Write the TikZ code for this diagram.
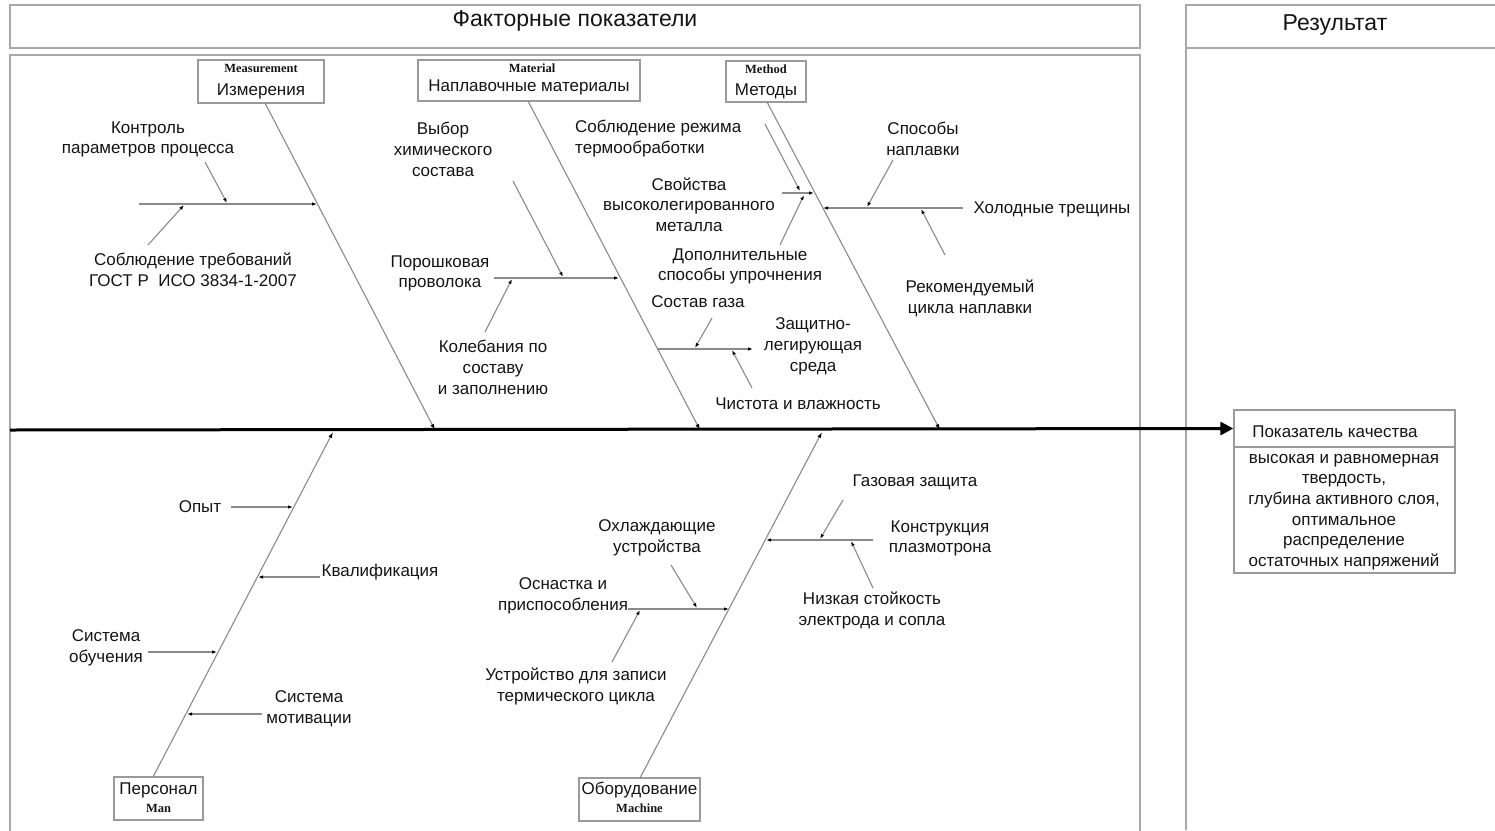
\documentclass[tikz,border=0pt]{standalone}
\usepackage{fontspec}
\setmainfont{Liberation Sans}
\newfontfamily\enserif{Liberation Serif}
\usetikzlibrary{arrows.meta}
\definecolor{txtc}{HTML}{141414}
\definecolor{boxc}{HTML}{9A9A9A}
\definecolor{framec}{HTML}{A8A8A8}
\definecolor{bonec}{HTML}{8A8A8A}
\newcommand\labfont{\fontsize{17}{20.7}\selectfont}
\newcommand\headfont{\fontsize{23}{26}\selectfont}
\newcommand\enlabfont{\enserif\bfseries\fontsize{12.5}{14}\selectfont}
\begin{document}
\begin{tikzpicture}[x=1pt,y=-1pt,
  lbl/.style={font=\labfont, align=center, inner sep=0pt, text=txtc, yshift=-1.5pt},
  enlbl/.style={font=\enlabfont, inner sep=0pt, text=txtc},
  hdr/.style={font=\headfont, inner sep=0pt, text=txtc},
  catbox/.style={draw=boxc, line width=1.3pt, inner sep=0pt},
  frameline/.style={draw=framec, line width=1.5pt},
  bone/.style={draw=bonec, line width=1.1pt, -{Latex[length=6pt,width=4pt,color=black]}},
  sub/.style={draw=bonec, line width=1.1pt, -{Latex[length=5pt,width=3.5pt,color=black]}},
  spine/.style={draw=black, line width=3pt, -{Triangle[length=13pt,width=13pt]}}
]
\useasboundingbox (0,0) rectangle (1495,830);

% ---------- frames ----------
\draw[frameline] (10,5) rectangle (1140,48);
\draw[frameline] (1498,5) -- (1186,5) -- (1186,830);
\draw[frameline] (1186,48) -- (1498,48);
\draw[frameline] (10,835) -- (10,55) -- (1140,55) -- (1140,835);
\node[hdr] (hfact) at (575,21) {Факторные показатели};
\node[hdr] (hres) at (1335,25) {Результат};

% ---------- category boxes ----------
\node[catbox, minimum width=126pt, minimum height=43pt] (meas) at (261,81.5) {};
\node[enlbl] (measen) at (261,68) {Measurement};
\node[lbl] (measru) at (261,90) {Измерения};

\node[catbox, minimum width=222pt, minimum height=41pt] (mat) at (529,80.5) {};
\node[enlbl] (maten) at (532,68) {Material};
\node[lbl] (matru) at (529,86) {Наплавочные материалы};

\node[catbox, minimum width=80pt, minimum height=41pt] (meth) at (766,81.5) {};
\node[enlbl] (methen) at (766,69) {Method};
\node[lbl] (methru) at (766,90) {Методы};

\node[catbox, minimum width=89pt, minimum height=43pt] (man) at (158.5,798.5) {};
\node[lbl] (manru) at (158.5,789) {Персонал};
\node[enlbl] (manen) at (158.5,808) {Man};

\node[catbox, minimum width=121pt, minimum height=43pt] (mach) at (639.5,799.5) {};
\node[lbl] (machru) at (639.5,789) {Оборудование};
\node[enlbl] (machen) at (639.5,808) {Machine};

% ---------- result ----------
\node[catbox, minimum width=221pt, minimum height=37pt] (qtop) at (1344.5,428.5) {};
\node[lbl] (qtitle) at (1335,430) {Показатель качества};
\node[catbox, minimum width=221pt, minimum height=126pt] (qbot) at (1344.5,510) {};
\node[lbl] (qtext) at (1344,510.5) {высокая и равномерная\\твердость,\\глубина активного слоя,\\оптимальное\\распределение\\остаточных напряжений};

% ---------- spine ----------
\coordinate (sp0) at (10,430);
\draw[spine] (sp0) -- (qtop.west);

% ---------- labels ----------
\node[lbl] (l1) at (148,138) {Контроль\\параметров процесса};
\node[lbl] (l2) at (193,268) {Соблюдение требований\\ГОСТ Р\ \ ИСО 3834-1-2007};
\node[lbl] (l3) at (443,148) {Выбор\\химического\\состава};
\node[lbl] (l4) at (440,272) {Порошковая\\проволока};
\node[lbl] (l5) at (493,366) {Колебания по\\составу\\и заполнению};
\node[lbl, align=left, anchor=west] (l6) at (575,137) {Соблюдение режима\\термообработки};
\node[lbl] (l7) at (689,203) {Свойства\\высоколегированного\\металла};
\node[lbl] (l8) at (740,265) {Дополнительные\\способы упрочнения};
\node[lbl] (l9) at (698,300) {Состав газа};
\node[lbl] (l10) at (813,345) {Защитно-\\легирующая\\среда};
\node[lbl] (l11) at (798,402) {Чистота и влажность};
\node[lbl] (l12) at (923,137) {Способы\\наплавки};
\node[lbl] (l13) at (1052,208) {Холодные трещины};
\node[lbl] (l14) at (970,297) {Рекомендуемый\\цикла наплавки};

\node[lbl] (b1) at (200,505) {Опыт};
\node[lbl] (b2) at (380,571) {Квалификация};
\node[lbl] (b3) at (106,646) {Система\\обучения};
\node[lbl] (b4) at (309,707) {Система\\мотивации};
\node[lbl] (b5) at (657,536) {Охлаждающие\\устройства};
\node[lbl] (b6) at (563,594) {Оснастка и\\приспособления};
\node[lbl] (b7) at (576,685) {Устройство для записи\\термического цикла};
\node[lbl] (b8) at (915,481) {Газовая защита};
\node[lbl] (b9) at (940,537) {Конструкция\\плазмотрона};
\node[lbl] (b10) at (872,609) {Низкая стойкость\\электрода и сопла};

% ---------- Measurement ----------
\coordinate (ms) at (265,103);  \coordinate (me) at (435,430);
\draw[bone] (ms) -- (me);
\coordinate (mh1) at (139,204); \coordinate (mh2) at (317,204);
\draw[sub] (mh1) -- (mh2);
\coordinate (ma1) at (205,162); \coordinate (ma2) at (227,203);
\draw[sub] (ma1) -- (ma2);
\coordinate (mb1) at (148,245); \coordinate (mb2) at (184,205);
\draw[sub] (mb1) -- (mb2);

% ---------- Material ----------
\coordinate (ts) at (528,101);  \coordinate (te) at (700,430);
\draw[bone] (ts) -- (te);
\coordinate (th1) at (494,278); \coordinate (th2) at (619,278);
\draw[sub] (th1) -- (th2);
\coordinate (ta1) at (513,181); \coordinate (ta2) at (563,277);
\draw[sub] (ta1) -- (ta2);
\coordinate (tb1) at (485,332); \coordinate (tb2) at (512,279);
\draw[sub] (tb1) -- (tb2);
\coordinate (tg1) at (657,349); \coordinate (tg2) at (753,349);
\draw[sub] (tg1) -- (tg2);
\coordinate (tc1) at (712,318); \coordinate (tc2) at (695,348);
\draw[sub] (tc1) -- (tc2);
\coordinate (td1) at (752,388); \coordinate (td2) at (732,350);
\draw[sub] (td1) -- (td2);

% ---------- Method ----------
\coordinate (hs) at (767,102);  \coordinate (he) at (940,430);
\draw[bone] (hs) -- (he);
\coordinate (hk1) at (782,193); \coordinate (hk2) at (814,193);
\draw[sub] (hk1) -- (hk2);
\coordinate (ha1) at (765,124); \coordinate (ha2) at (800,191);
\draw[sub] (ha1) -- (ha2);
\coordinate (hb1) at (780,245); \coordinate (hb2) at (804,195);
\draw[sub] (hb1) -- (hb2);
\coordinate (hr1) at (963,208); \coordinate (hr2) at (823,208);
\draw[sub] (hr1) -- (hr2);
\coordinate (hc1) at (893,160); \coordinate (hc2) at (867,207);
\draw[sub] (hc1) -- (hc2);
\coordinate (hd1) at (945,255); \coordinate (hd2) at (921,209);
\draw[sub] (hd1) -- (hd2);

% ---------- Man ----------
\coordinate (ns) at (153,777);  \coordinate (ne) at (333,432);
\draw[bone] (ns) -- (ne);
\coordinate (na1) at (231,507); \coordinate (na2) at (293,507);
\draw[sub] (na1) -- (na2);
\coordinate (nb1) at (320,577); \coordinate (nb2) at (258,577);
\draw[sub] (nb1) -- (nb2);
\coordinate (nc1) at (148,652); \coordinate (nc2) at (217,652);
\draw[sub] (nc1) -- (nc2);
\coordinate (nd1) at (262,714); \coordinate (nd2) at (187,714);
\draw[sub] (nd1) -- (nd2);

% ---------- Machine ----------
\coordinate (cs) at (640,778);  \coordinate (ce) at (822,432);
\draw[bone] (cs) -- (ce);
\coordinate (cr1) at (873,540); \coordinate (cr2) at (766,540);
\draw[sub] (cr1) -- (cr2);
\coordinate (ca1) at (843,500); \coordinate (ca2) at (820,539);
\draw[sub] (ca1) -- (ca2);
\coordinate (cb1) at (873,588); \coordinate (cb2) at (851,541);
\draw[sub] (cb1) -- (cb2);
\coordinate (cl1) at (628,609); \coordinate (cl2) at (729,609);
\draw[sub] (cl1) -- (cl2);
\coordinate (cc1) at (671,565); \coordinate (cc2) at (697,608);
\draw[sub] (cc1) -- (cc2);
\coordinate (cd1) at (612,662); \coordinate (cd2) at (640,610);
\draw[sub] (cd1) -- (cd2);
\end{tikzpicture}
\end{document}
